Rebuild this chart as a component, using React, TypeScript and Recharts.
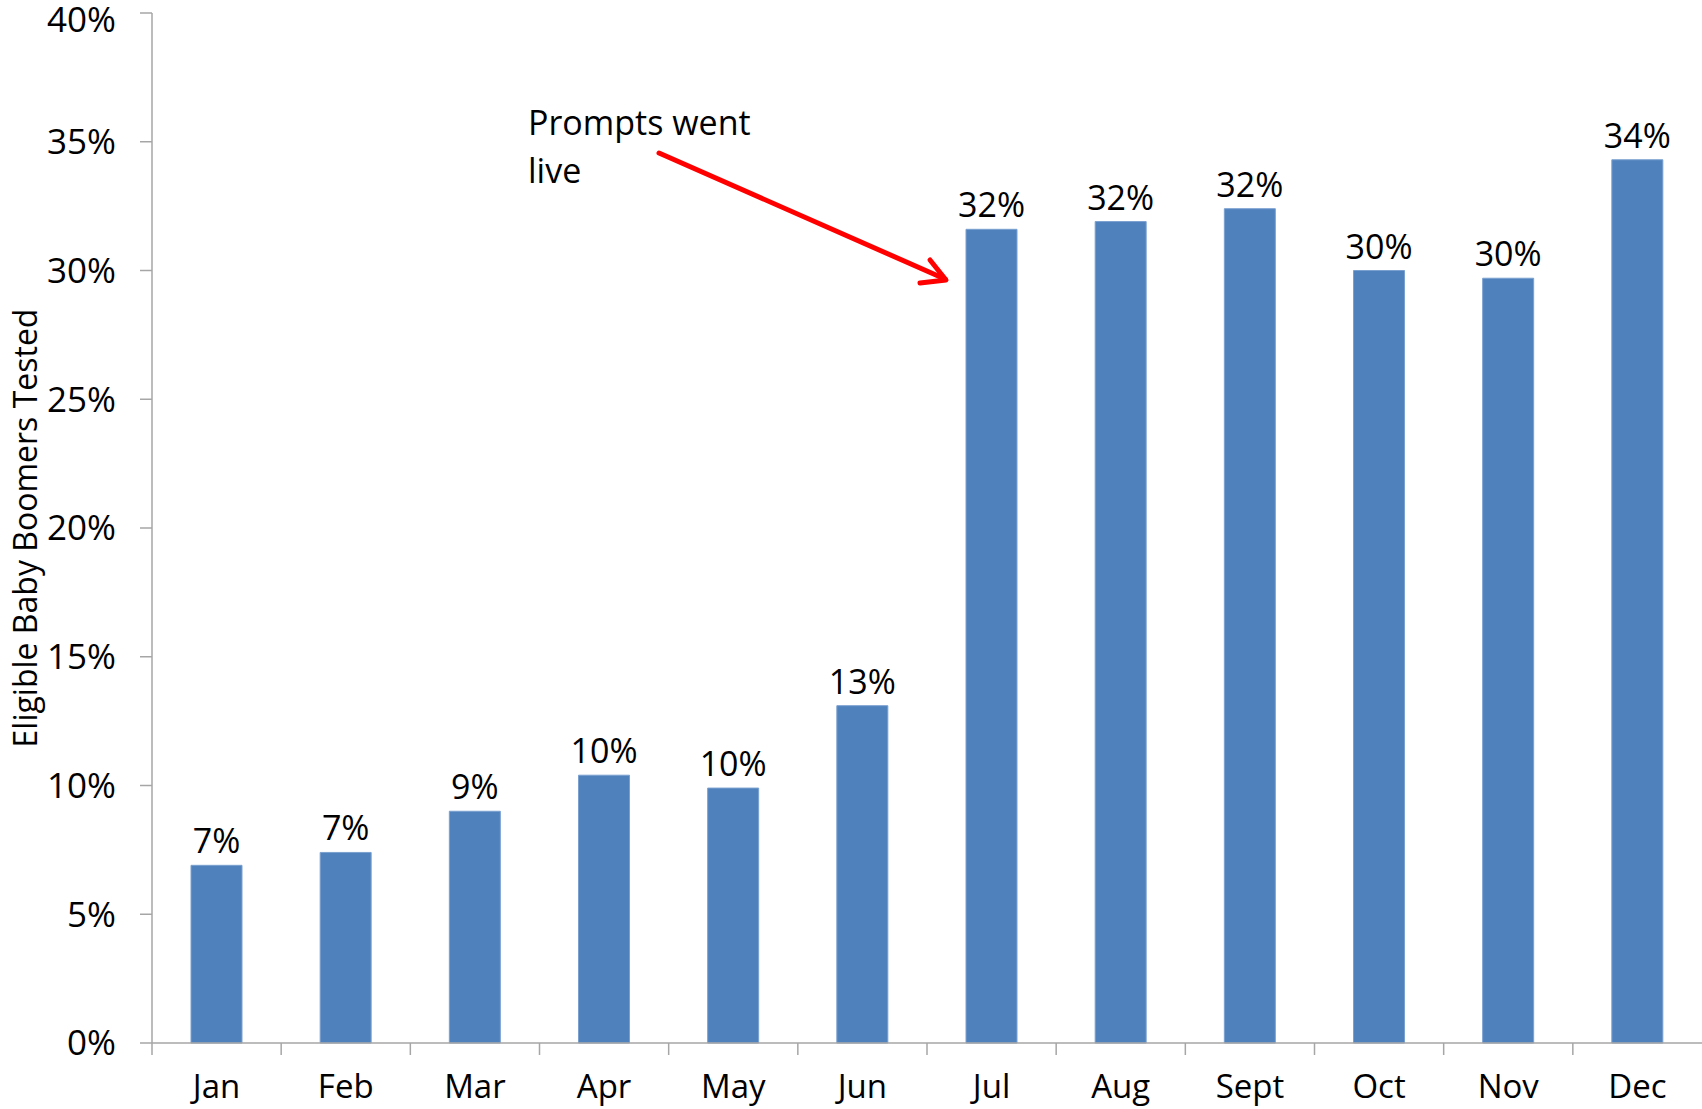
import React from 'react';
import { BarChart, Bar, XAxis, YAxis, LabelList } from 'recharts';

const months = ['Jan', 'Feb', 'Mar', 'Apr', 'May', 'Jun', 'Jul', 'Aug', 'Sept', 'Oct', 'Nov', 'Dec'];
const tested = [6.9, 7.4, 9.0, 10.4, 9.9, 13.1, 31.6, 31.9, 32.4, 30.0, 29.7, 34.3];
const yTicks = [0, 5, 10, 15, 20, 25, 30, 35, 40];

const data = months.map((m, i) => ({ month: m, value: tested[i] }));

const W = 1702;
const H = 1109;
const Y_AXIS_W = 152;
const X_AXIS_H = 66;
const TOP = 13;
const band = (W - Y_AXIS_W) / months.length;
const axisGray = '#a6a6a6';
const FONT = "'Open Sans', sans-serif";

const MonthTick = (props: any) => {
  const { x, y, payload } = props;
  return (
    <g>
      <line x1={x - band / 2} y1={y} x2={x - band / 2} y2={y + 12} stroke={axisGray} strokeWidth={1.5} />
      <text x={x} y={y + 55} textAnchor="middle" fill="#000" fontSize={33}>
        {payload.value}
      </text>
    </g>
  );
};

const AxisTitle = (props: any) => {
  const { viewBox } = props;
  const cy = viewBox.y + viewBox.height / 2;
  return (
    <text
      x={24}
      y={cy}
      transform={`rotate(-90, 24, ${cy})`}
      textAnchor="middle"
      dominantBaseline="central"
      fill="#000"
      fontSize={32}
    >
      Eligible Baby Boomers Tested
    </text>
  );
};

const App: React.FC = () => {
  return (
    <div style={{ position: 'absolute', left: 0, top: 0, width: W, height: H, background: '#fff', fontFamily: FONT }}>
      <BarChart width={W} height={H} data={data} margin={{ top: TOP, right: 0, bottom: 0, left: 0 }} barSize={51}>
        <XAxis
          dataKey="month"
          height={X_AXIS_H}
          tickSize={0}
          tickMargin={0}
          tickLine={false}
          axisLine={{ stroke: axisGray, strokeWidth: 1.5 }}
          tick={<MonthTick />}
          interval={0}
        />
        <YAxis
          width={Y_AXIS_W}
          domain={[0, 40]}
          ticks={yTicks}
          tickFormatter={(v: number) => `${v}%`}
          tick={{ fill: '#000', fontSize: 35 }}
          tickSize={12}
          tickMargin={24}
          axisLine={{ stroke: axisGray, strokeWidth: 1.5 }}
          tickLine={{ stroke: axisGray, strokeWidth: 1.5 }}
          label={<AxisTitle />}
        />
        <Bar dataKey="value" fill="#4f81bd" stroke="#7aa0d0" strokeWidth={1} isAnimationActive={false}>
          <LabelList
            dataKey="value"
            position="top"
            offset={12}
            fill="#000"
            fontSize={34}
            formatter={(v: any) => `${Math.round(Number(v))}%`}
          />
        </Bar>
      </BarChart>
      <svg width={W} height={H} style={{ position: 'absolute', left: 0, top: 0, pointerEvents: 'none' }}>
        <text x={528} y={135} fontSize={34} fill="#000">Prompts went</text>
        <text x={528} y={183} fontSize={34} fill="#000">live</text>
        <line x1={659} y1={153} x2={945} y2={279} stroke="#ff0000" strokeWidth={5} strokeLinecap="round" />
        <polyline points="930,260 946,280 920,283" fill="none" stroke="#ff0000" strokeWidth={5} strokeLinecap="round" strokeLinejoin="round" />
      </svg>
    </div>
  );
};

export default App;
